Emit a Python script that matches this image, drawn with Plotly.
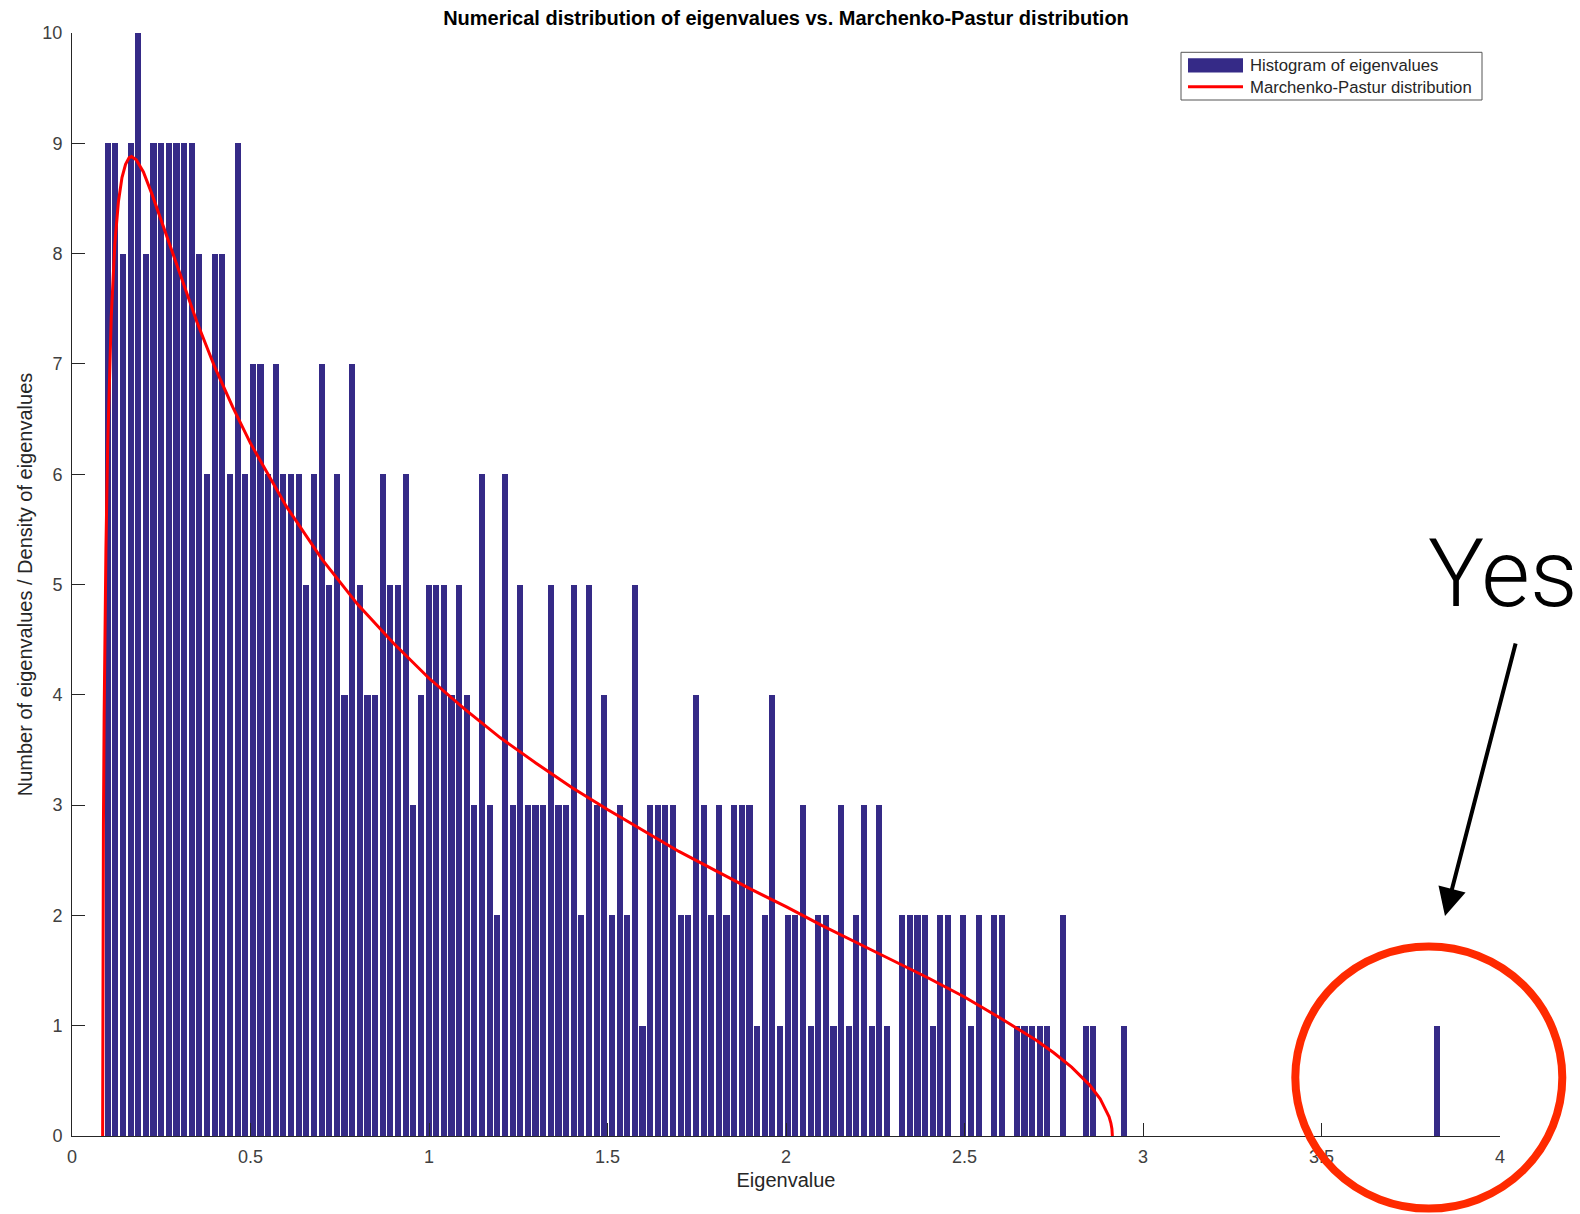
import numpy as np
import plotly.graph_objects as go

# ---------------- data ----------------
title_text = "Numerical distribution of eigenvalues vs. Marchenko-Pastur distribution"
x_title = "Eigenvalue"
y_title = "Number of eigenvalues / Density of eigenvalues"
legend_labels = ["Histogram of eigenvalues", "Marchenko-Pastur distribution"]

# histogram: 175 equal bins, first bin centre and bin width
bin_first_center = 0.100
bin_width = 0.0214
counts = [
    9, 9, 8, 9, 10, 8, 9, 9, 9, 9, 9, 9, 8, 6, 8, 8, 6, 9, 6, 7, 7,
    6, 7, 6, 6, 6, 5, 6, 7, 5, 6, 4, 7, 5, 4, 4, 6, 5, 5, 6, 3, 4, 5, 5,
    5, 4, 5, 4, 3, 6, 3, 2, 6, 3, 5, 3, 3, 3, 5, 3, 3, 5, 2, 5, 3, 4, 2,
    3, 2, 5, 1, 3, 3, 3, 3, 2, 2, 4, 3, 2, 3, 2, 3, 3, 3, 1, 2, 4, 1,
    2, 2, 3, 1, 2, 2, 1, 3, 1, 2, 3, 1, 3, 1, 0, 2, 2, 2, 2, 1, 2, 2,
    0, 2, 1, 2, 0, 2, 2, 0, 1, 1, 1, 1, 1, 0, 2, 0, 0, 1, 1, 0, 0, 0, 1,
    0, 0, 0, 0, 0, 0, 0, 0, 0, 0, 0, 0, 0, 0, 0, 0, 0, 0, 0, 0,
    0, 0, 0, 0, 0, 0, 0, 0, 0, 0, 0, 0, 0, 0, 0, 0, 0, 0, 0, 0,
    1,
]

# Marchenko-Pastur curve, values
mp_x = [0.0858, 0.0865, 0.088, 0.090, 0.092, 0.095, 0.100, 0.110, 0.120, 0.130,
        0.140, 0.150, 0.160, 0.1667, 0.180, 0.200, 0.225, 0.250, 0.300, 0.350,
        0.400, 0.450, 0.500, 0.600, 0.700, 0.800, 0.900, 1.000, 1.100, 1.200,
        1.300, 1.400, 1.500, 1.600, 1.700, 1.800, 1.900, 2.000, 2.100, 2.200,
        2.300, 2.400, 2.500, 2.600, 2.700, 2.750, 2.800, 2.850, 2.880, 2.900,
        2.905, 2.910, 2.913, 2.9142]
mp_y = [0.00, 1.61, 2.81, 3.80, 4.51, 5.32, 6.27, 7.43, 8.09, 8.47,
        8.69, 8.81, 8.87, 8.88, 8.85, 8.74, 8.53, 8.30, 7.83, 7.38,
        6.97, 6.61, 6.28, 5.71, 5.23, 4.82, 4.47, 4.15, 3.87, 3.61,
        3.38, 3.16, 2.96, 2.77, 2.58, 2.41, 2.24, 2.08, 1.91, 1.75,
        1.59, 1.43, 1.26, 1.07, 0.87, 0.755, 0.624, 0.464, 0.337, 0.216,
        0.174, 0.117, 0.063, 0.00]

x_ticks = [0, 0.5, 1, 1.5, 2, 2.5, 3, 3.5, 4]
x_tick_labels = ["0", "0.5", "1", "1.5", "2", "2.5", "3", "3.5", "4"]
y_ticks = list(range(0, 11))
annotation_text = "Yes"

# ---------------- styles ----------------
BAR_COLOR = "#352A87"
LINE_COLOR = "#FF0000"
AXIS_COLOR = "#262626"
TICK_FONT_COLOR = "#404040"
CIRCLE_COLOR = "#FF2A00"
FONT = "Liberation Sans, Arial, Helvetica, sans-serif"

W, H = 1580, 1214
ML, MR, MT, MB = 72, 80, 33, 78
PW, PH = W - ML - MR, H - MT - MB


def px2paper_x(px):
    return (px - ML) / PW


def px2paper_y(py):
    return (H - MB - py) / PH


centers = bin_first_center + bin_width * np.arange(len(counts))

fig = go.Figure()
fig.add_trace(go.Bar(
    x=centers, y=counts, width=bin_width * 0.8,
    marker=dict(color=BAR_COLOR, line=dict(width=0)),
    name=legend_labels[0], showlegend=False,
))
fig.add_trace(go.Scatter(
    x=mp_x, y=mp_y, mode="lines",
    line=dict(color=LINE_COLOR, width=3),
    name=legend_labels[1], showlegend=False,
))

shapes = []
annotations = []

# manual legend (MATLAB style)
lx0, lx1 = px2paper_x(1181), px2paper_x(1482)
ly0, ly1 = px2paper_y(100), px2paper_y(52.3)
shapes.append(dict(type="rect", xref="paper", yref="paper", x0=lx0, x1=lx1, y0=ly0, y1=ly1,
                   line=dict(color="#555555", width=1), fillcolor="white", layer="above"))
shapes.append(dict(type="rect", xref="paper", yref="paper",
                   x0=px2paper_x(1188), x1=px2paper_x(1243),
                   y0=px2paper_y(72.5), y1=px2paper_y(58.3),
                   line=dict(width=0), fillcolor=BAR_COLOR, layer="above"))
shapes.append(dict(type="line", xref="paper", yref="paper",
                   x0=px2paper_x(1188), x1=px2paper_x(1243),
                   y0=px2paper_y(86.7), y1=px2paper_y(86.7),
                   line=dict(color=LINE_COLOR, width=3), layer="above"))
for lbl, yy in zip(legend_labels, [65.5, 87.0]):
    annotations.append(dict(text=lbl, xref="paper", yref="paper",
                            x=px2paper_x(1248), y=px2paper_y(yy),
                            xanchor="left", yanchor="middle", showarrow=False,
                            font=dict(family=FONT, size=16.7, color=AXIS_COLOR)))

# red circle highlighting the outlier
cx, cy, rx, ry = 1428.8, 1077.6, 133.5, 131.0
shapes.append(dict(type="circle", xref="paper", yref="paper",
                   x0=px2paper_x(cx - rx), x1=px2paper_x(cx + rx),
                   y0=px2paper_y(cy + ry), y1=px2paper_y(cy - ry),
                   line=dict(color=CIRCLE_COLOR, width=8), layer="above"))

# "Yes" text + arrow
annotations.append(dict(text=annotation_text, xref="paper", yref="paper",
                        x=px2paper_x(1503), y=px2paper_y(574),
                        xanchor="center", yanchor="middle", showarrow=False,
                        font=dict(family="Roboto, Liberation Sans, sans-serif", size=94,
                                  color="black", weight=300)))
annotations.append(dict(text="", xref="paper", yref="paper",
                        x=px2paper_x(1445), y=px2paper_y(916),
                        ax=71, ay=-274, axref="pixel", ayref="pixel",
                        showarrow=True, arrowhead=2, arrowsize=1.4, arrowwidth=4,
                        arrowcolor="black", standoff=0))

fig.update_layout(
    width=W, height=H,
    margin=dict(l=ML, r=MR, t=MT, b=MB),
    paper_bgcolor="white", plot_bgcolor="white",
    bargap=0,
    title=dict(text="<b>" + title_text + "</b>", x=0.5, xref="paper",
               y=1 - 18 / H, yref="container", xanchor="center", yanchor="middle",
               font=dict(family=FONT, size=20, color="black")),
    xaxis=dict(range=[0, 4], tickvals=x_ticks, ticktext=x_tick_labels,
               showline=True, linecolor=AXIS_COLOR, linewidth=1, mirror=False,
               ticks="inside", ticklen=13, tickwidth=1, tickcolor=AXIS_COLOR,
               showgrid=False, zeroline=False, ticklabelstandoff=4,
               tickfont=dict(family=FONT, size=18, color=TICK_FONT_COLOR),
               title=dict(text=x_title, standoff=7,
                          font=dict(family=FONT, size=20, color=AXIS_COLOR))),
    yaxis=dict(range=[0, 10], tickvals=y_ticks,
               showline=True, linecolor=AXIS_COLOR, linewidth=1, mirror=False,
               ticks="inside", ticklen=13, tickwidth=1, tickcolor=AXIS_COLOR,
               showgrid=False, zeroline=False, ticklabelstandoff=5,
               tickfont=dict(family=FONT, size=18, color=TICK_FONT_COLOR),
               title=dict(text=y_title, standoff=4,
                          font=dict(family=FONT, size=20, color=AXIS_COLOR))),
    shapes=shapes,
    annotations=annotations,
    showlegend=False,
)

fig.write_html("out.html")
